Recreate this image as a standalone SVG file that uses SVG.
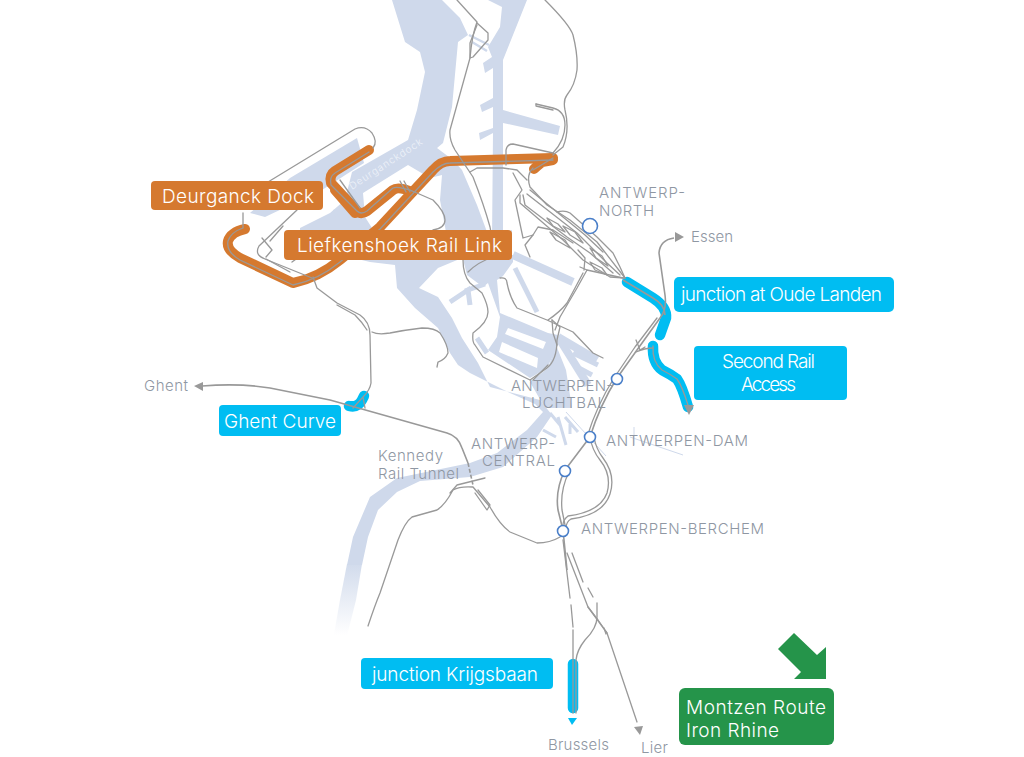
<svg xmlns="http://www.w3.org/2000/svg" width="1024" height="757" viewBox="0 0 1024 757">
<style>
text{font-family:"Inter","Liberation Sans",sans-serif}
.w{fill:#cfd9eb;stroke:none}
.ws{fill:none;stroke:#cfd9eb;stroke-linejoin:miter}
.r{fill:none;stroke:#999;stroke-width:1.3;stroke-linejoin:round;stroke-linecap:round}
.rt{fill:none;stroke:#999;stroke-width:1.6;stroke-linejoin:round}
.og{fill:none;stroke:#d5792f;stroke-width:10;stroke-linejoin:round;stroke-linecap:round}
.cy{fill:none;stroke:#00bdf2;stroke-width:10.5;stroke-linejoin:round;stroke-linecap:round}
.lo{fill:#d5792f}.lc{fill:#00bdf2}.lg{fill:#25944a}
.t{fill:#fff;font-size:19px;font-weight:300}
.g{fill:#8f97a3;font-size:15px;font-weight:300}
.st{fill:#fff;stroke:#4a7fc9;stroke-width:1.6}
.a{fill:#999}
</style>
<defs>
<linearGradient id="fade" gradientUnits="userSpaceOnUse" x1="0" y1="560" x2="0" y2="635"><stop offset="0" stop-color="#cfd9eb"/><stop offset="1" stop-color="#cfd9eb" stop-opacity="0"/></linearGradient>
</defs>
<g id="water">
<polygon class="w" points="392,0 405,42 420,52 425,72 417,110 408,140 352,172 345,200 330,213 300,228 300,245 370,262 395,265 397,288 415,308 438,328 450,353 458,365 470,373 510,393 535,404 543,412 527,430 497,453 470,463 397,478 370,497 353,537 347,565 362,565 368,537 378,510 397,492 420,481 470,477 503,467 537,437 552,415 540,400 490,387 478,363 462,338 452,318 438,297 419,288 438,268 462,258 512,255 512,230 490,240 477,205 462,170 453,160 437,148 443,143 452,107 458,42 468,35 460,18 442,0"/>
<polygon points="347,564 362,564 356,600 346,640 333,640 340,600" fill="url(#fade)"/>
<polygon class="w" points="357,138 364,163 322,190 265,217 250,213 290,178"/>
<polygon fill="#fff" points="408,165 430,178 442,175 440,200 446,232 378,232 372,228 365,217 363,193"/>
<polygon class="w" points="488,0 527,0 503,60 503,110 560,126 558,135 503,123 503,262 482,262 492,240 493,133 480,140 479,133 493,128 493,107 482,112 480,105 493,98 493,68 485,73 483,63 492,57 488,47 500,27 502,7"/>
<path class="ws" stroke-width="2.5" d="M469,35L489,45M472,42L487,51"/>
<polygon class="w" points="462,255 467,275 483,287 488,283 500,317 497,337 488,350 530,378 547,368 558,345 558,335 548,333 500,313 497,280 503,276 513,262 513,255"/>
<polygon fill="#fff" points="508,328 546,342 543,349 505,334"/>
<polygon fill="#fff" points="502,342 538,358 537,368 499,352"/>
<polygon class="w" points="530,382 548,368 556,345 566,370 572,408 545,408"/>
<g class="ws">
<path stroke-width="5" d="M450,302L468,290L470,305"/>
<path stroke-width="5" d="M465,291L485,284"/>
<path stroke-width="8" d="M513,255L573,282"/>
<path stroke-width="5" d="M515,268L537,312"/>
<path stroke-width="5" d="M477,338L487,353"/>
<path stroke-width="8" d="M558,337L597,360"/>
<path stroke-width="8" d="M560,340L588,385"/>
<path stroke-width="5" d="M573,353L598,365M575,366L592,375"/>
<path stroke-width="3" d="M550,413L560,425M565,417L578,432M570,424L570,434M543,430L556,437M558,417L566,445"/>
<path stroke-width="1" d="M566,412L606,456M634,427L634,445M630,437L683,455"/>
</g>
<polygon class="w" points="333,210 336,209 339,217 336,218"/>
</g>
<g id="connectors">
<g id="highlights">
<path class="og" d="M369,150L335,171Q329,175 331,183L357,211Q361,215 367,211L393,190Q398,186 412,192"/>
<path class="og" stroke-width="9" d="M335,190L355,213"/>
<path class="og" d="M553,158L450,161Q441,161 433,170L380,227L340,260Q318,278 293,283L240,258Q226,250 228,241Q231,232 245,229"/>
<path class="og" stroke-width="8" d="M553,160L542,162Q537,166 534,169"/>
<path class="cy" d="M627,282L653,298Q667,307 666,318L660,335"/>
<path class="cy" d="M653,346Q652,362 662,370Q670,374 677,379Q682,386 688,407"/>
<path class="cy" stroke-width="12" d="M349,406Q358,408 362,400L364,396"/>
<path class="cy" stroke-width="13" d="M573,664L573,708"/>
</g>
<g id="rails">
<path class="r" d="M457,0L477,22Q472,35 470,58L450,130Q449,140 455,150Q465,165 473,177Q484,205 490,227L493,243"/>
<path class="r" d="M477,23L488,33L488,40L473,57L470,58M477,25L470,43L470,58"/>
<path class="r" d="M545,0Q570,25 573,35Q578,55 577,70Q575,85 567,95Q563,100 565,110Q570,130 563,147L553,155"/>
<path class="r" d="M536,104L553,108Q565,111 565,125Q565,140 553,153L513,144Q507,144 506,150L506,165"/>
<path class="r" d="M536,106L553,110M536,104L536,106"/>
<path class="r" stroke-width="1.4" d="M553,160L450,163Q442,163 433,172L380,229L340,262Q318,280 293,285L240,260Q226,252 228,241Q231,232 243,228L243,213"/>
<path class="r" stroke-width="1.4" d="M369,152L335,173Q329,177 331,185L357,211Q361,215 367,211L393,188Q398,186 412,191M340,180L360,208"/>
<path class="r" d="M268,182L355,129Q365,125 372,133Q378,142 373,148"/>
<path class="r" d="M297,210L259,246Q254,255 265,259L312,278M262,238L272,250L266,257M283,226L270,241M292,262L306,252"/>
<path class="r" stroke-width="1.7" d="M266,259L290,272"/>
<path class="r" d="M410,190L433,200Q445,212 445,220Q445,228 433,230M400,181L406,192M404,181L410,192"/>
<path class="r" d="M470,172L477,168L503,168L517,170L527,180M553,158L533,170"/>
<path class="r" d="M463,260Q463,275 470,283L482,293Q488,305 488,312Q488,322 473,333Q472,342 475,345L483,357L530,380L547,368Q557,360 557,340L560,327L552,320"/>
<path class="r" d="M500,278Q507,277 507,283Q510,298 517,308L547,320L573,332L593,353L603,358M468,272Q478,262 493,257M548,320Q560,312 567,303L583,273M552,320L553,333L557,345M533,380L548,365"/>
<path class="r" d="M533,168Q526,175 530,187L547,205L570,220L597,242L625,278"/>
<path class="r" d="M557,212Q565,210 570,213L597,237L613,253L620,267L625,278"/>
<path class="r" d="M520,195L520,203L563,240L583,260L610,277L625,278"/>
<path class="r" d="M523,195L525,205L567,237L590,253L613,273"/>
<path class="r" d="M527,194L577,233L607,263L620,275"/>
<path class="r" d="M530,190L585,235L603,252"/>
<path class="r" d="M513,173L522,190L515,200L523,238L533,235L538,227L553,230L573,243"/>
<path class="r" d="M533,235L525,245L530,257"/>
<path class="r" d="M580,267L587,270L577,288L560,317L555,330M587,270L623,278M578,250L585,258L584,270"/>
<path class="r" d="M563,226L575,232L583,243L570,235ZM590,248L602,256L608,266L596,258ZM547,218L558,224L565,232L553,226ZM550,232L565,240L570,248L556,240ZM590,262L602,268L607,275L595,270Z"/>
<path class="rt" d="M623,280L653,298Q665,305 665,315"/>
<path class="rt" d="M674,238Q660,240 659,253L665,295Q667,310 660,318L637,350L617,378Q600,405 590,437L565,470Q555,490 558,510L563,530L567,570"/>
<path class="r" stroke-width="1.3" d="M657,318L635,347L614,378Q597,405 587,437M569,472Q560,490 562,510L566,530"/>
<path class="r" d="M636,352Q645,348 653,348M636,340L640,350L645,347"/>
<path class="r" stroke-width="1.6" d="M653,346Q652,362 662,370Q670,374 677,379Q682,386 688,405"/>
<path class="r" d="M590,437Q592,450 600,460Q612,475 607,493Q600,512 568,516Q563,520 563,525M594,437Q596,449 603,458Q616,475 610,494Q603,515 571,519Q566,522 566,528"/>
<path class="rt" d="M202,386Q240,383 270,388L330,400L447,433Q458,436 462,448L468,463"/>
<path class="rt" stroke-dasharray="4 2" d="M468,463L473,485"/>
<path class="r" d="M313,277L317,288L337,303L360,315Q370,322 370,335L371,383Q370,390 363,397L353,408M363,397L365,408"/>
<path class="r" d="M337,305L355,315Q362,322 367,330M372,332Q378,335 390,333Q405,330 422,328Q435,328 440,333Q448,345 448,353Q445,360 438,362L437,367"/>
<path class="r" d="M368,626Q375,605 380,593L398,540Q405,522 412,517L437,510Q445,505 453,490Q460,486 473,487L490,507Q500,525 510,532L537,543Q550,543 560,537"/>
<path class="r" d="M450,493L457,485L485,478M478,490L490,505L487,510L475,493"/>
<path class="r" d="M563,540L570,598M571,605L573,627M573,630L573,713"/>
<path class="r" d="M567,553L588,607L607,633L637,722"/>
<path class="r" d="M576,713L576,660Q577,650 585,640Q597,628 597,617L597,603M593,597L588,588M583,582L572,553"/>
<path class="r" d="M588,607L598,620L607,633M604,628L606,634"/>
</g>
<polygon class="a" points="675,232 675,242 684,237"/>
<polygon class="a" points="203,382 203,391 194,386"/>
<polygon class="a" points="684,405 694,405 689,415"/>
<polygon class="a" points="634,727 643,726 640,735"/>
<polygon fill="#00bdf2" points="568,718 577,718 572,725"/>
</g>
<text x="352" y="190" transform="rotate(-33 352 190)" fill="#eef2f9" font-size="10" font-weight="300" textLength="85">Deurganckdock</text>
<g id="stations">
<circle id="antwerp-north" class="st" cx="590" cy="226" r="7.5"/>
<circle id="luchtbal" class="st" cx="617" cy="379" r="5.5"/>
<circle id="dam" class="st" cx="590" cy="437" r="5.5"/>
<circle id="central" class="st" cx="565" cy="471" r="5.5"/>
<circle id="berchem" class="st" cx="563" cy="531" r="5.5"/>
</g>
<g id="labels">
<text class="g" x="599" y="198" textLength="86">ANTWERP-</text>
<text class="g" x="599" y="216" textLength="55">NORTH</text>
<text class="g" x="691" y="242" textLength="42">Essen</text>
<text class="g" x="144" y="391" textLength="44">Ghent</text>
<text class="g" x="378" y="461" textLength="65">Kennedy</text>
<text class="g" x="378" y="479" textLength="81">Rail Tunnel</text>
<text class="g" x="511" y="391" textLength="102">ANTWERPEN-</text>
<text class="g" x="522" y="408" textLength="84">LUCHTBAL</text>
<text class="g" x="471" y="449" textLength="84">ANTWERP-</text>
<text class="g" x="482" y="466" textLength="73">CENTRAL</text>
<text class="g" x="606" y="446" textLength="142">ANTWERPEN-DAM</text>
<text class="g" x="581" y="534" textLength="183">ANTWERPEN-BERCHEM</text>
<text class="g" x="548" y="750" textLength="61">Brussels</text>
<text class="g" x="641" y="753" textLength="27">Lier</text>
</g>
<g id="deurganck-dock"><rect class="lo" x="151" y="181" width="172" height="29" rx="4"/><text class="t" x="162" y="203" textLength="152">Deurganck Dock</text></g>
<g id="liefkenshoek"><rect class="lo" x="284" y="230" width="228" height="30" rx="4"/><text class="t" x="297" y="252" textLength="205">Liefkenshoek Rail Link</text></g>
<g id="ghent-curve"><rect class="lc" x="219" y="405" width="122" height="31" rx="4"/><text class="t" x="224" y="428" textLength="112">Ghent Curve</text></g>
<g id="oude-landen"><rect class="lc" x="674" y="277" width="220" height="35" rx="5"/><text class="t" x="681" y="301" textLength="201">junction at Oude Landen</text></g>
<g id="second-rail"><rect class="lc" x="694" y="346" width="153" height="54" rx="4"/><text class="t" x="722" y="368" textLength="93">Second Rail</text><text class="t" x="741" y="391" textLength="55">Access</text></g>
<g id="krijgsbaan"><rect class="lc" x="361" y="658" width="192" height="31" rx="4"/><text class="t" x="372" y="681" textLength="166">junction Krijgsbaan</text></g>
<g id="montzen"><rect class="lg" x="679" y="688" width="155" height="57" rx="6"/><text class="t" x="686" y="714" textLength="140">Montzen Route</text><text class="t" x="686" y="737" textLength="93">Iron Rhine</text>
<polygon class="lg" points="794,633 817,655 826,647 826,679 794,679 801,672 778,649"/></g>
</svg>
